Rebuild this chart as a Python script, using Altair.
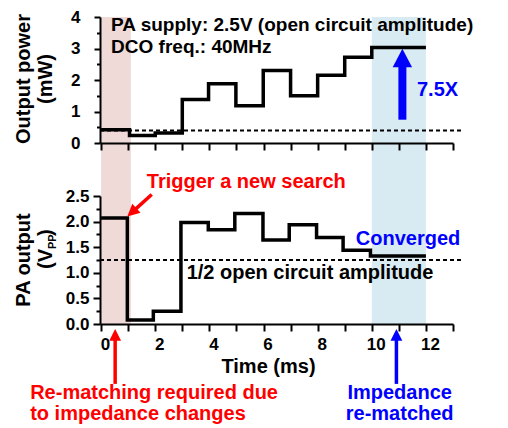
import altair as alt
import pandas as pd

# ---------------- data ----------------
power_edges = [0, 1.05, 2.0, 3.0, 3.97, 4.98, 5.99, 7.0, 8.0, 9.0, 10.0, 12.0]
power_levels = [0.42, 0.24, 0.32, 1.38, 1.88, 1.18, 2.30, 1.50, 2.15, 2.72, 3.03]
power_ref = 0.40

vpp_edges = [0, 0.97, 1.93, 2.95, 3.96, 4.94, 5.98, 6.95, 7.96, 8.94, 9.95, 12.0]
vpp_levels = [2.07, 0.08, 0.25, 1.98, 1.84, 2.16, 1.64, 1.94, 1.69, 1.44, 1.33]
vpp_half = 1.25

band_start = [0.0, 10.0]
band_end = [1.1, 12.0]
band_color = ["#f0dad8", "#d9ebf2"]

x_ticks = list(range(0, 14))
power_ticks = [i * 0.5 for i in range(9)]
vpp_ticks = [i * 0.25 for i in range(11)]

FONT = "Liberation Sans"
W = 353
H_TOP, H_BOT = 126, 128
XDOM = [-0.04, 13]

def step_df(edges, levels):
    return pd.DataFrame({"t": edges, "v": levels + [levels[-1]]})

power_df = step_df(power_edges, power_levels)
vpp_df = step_df(vpp_edges, vpp_levels)

common_axis = dict(domainColor="black", domainWidth=2, tickColor="black", tickWidth=2,
                   grid=False, zindex=1, labelFont=FONT, labelFontWeight="bold",
                   labelFontSize=17, labelColor="black")

def xenc(field, bottom=False):
    if bottom:
        ax = alt.Axis(values=x_ticks, tickSize=7, labelPadding=5, labelOffset=4,
                      labelFlush=False, labelOverlap=False,
                      labelExpr="datum.value % 2 == 0 && datum.value <= 12 ? datum.label : ''",
                      title="Time (ms)", titleFont=FONT, titleFontWeight="bold", titleFontSize=20,
                      titleColor="black", titleBaseline="alphabetic", titleX=168, titleY=48,
                      **common_axis)
    else:
        ax = alt.Axis(values=x_ticks, tickSize=7, labels=False, title=None, **common_axis)
    return alt.X(field, type="quantitative", scale=alt.Scale(domain=XDOM, nice=False, zero=False), axis=ax)

def yenc(field, bottom=False):
    if bottom:
        ax = alt.Axis(values=vpp_ticks,
                      tickSize={"condition": {"test": "datum.value % 0.5 == 0", "value": 7}, "value": 4},
                      labelPadding=4, labelFlush=False, labelOverlap=False,
                      labelExpr="datum.value % 0.5 == 0 ? format(datum.value, '.1f') : ''",
                      title=None, **common_axis)
        sc = alt.Scale(domain=[0, 2.5], nice=False, zero=False)
    else:
        ax = alt.Axis(values=power_ticks,
                      tickSize={"condition": {"test": "datum.value % 1 == 0", "value": 6}, "value": 3.5},
                      labelPadding=14, labelFlush=False, labelOverlap=False,
                      labelExpr="datum.value % 1 == 0 ? format(datum.value, 'd') : ''",
                      title=None, **common_axis)
        sc = alt.Scale(domain=[0, 4], nice=False, zero=False)
    return alt.Y(field, type="quantitative", scale=sc, axis=ax)

def txt(df_rows, bottom, color="black", align="left", size=20, **kw):
    df = pd.DataFrame(df_rows)
    return alt.Chart(df).mark_text(font=FONT, fontWeight="bold", fontSize=size, color=color,
                                   align=align, baseline="alphabetic", **kw).encode(
        x=xenc("t", bottom), y=yenc("v", bottom), text="s:N")

# ---------------- top panel ----------------
bands = alt.Chart(pd.DataFrame({"t0": band_start, "t1": band_end, "c": band_color,
                                "y0": [4, 4], "y1": [-5.746, -5.746]})).mark_rect().encode(
    x=xenc("t0"), x2="t1", y=yenc("y0"), y2="y1", color=alt.Color("c:N", scale=None))

top_ref = alt.Chart(pd.DataFrame({"t0": [-0.04], "t1": [13.36], "v": [power_ref]})).mark_rule(
    color="black", strokeWidth=2, strokeDash=[4, 3]).encode(x=xenc("t0"), x2="t1", y=yenc("v"))

top_line = alt.Chart(power_df).mark_line(interpolate="step-after", color="black",
                                         strokeWidth=3.5).encode(x=xenc("t"), y=yenc("v"))

top_text = txt({"t": [0.37, 0.37], "v": [3.556, 2.873],
                "s": ["PA supply: 2.5V (open circuit amplitude)", "DCO freq.: 40MHz"]}, False, size=19)
gain_text = txt({"t": [11.67], "v": [1.49], "s": ["7.5X"]}, False, color="#0000ff")

up_shaft = alt.Chart(pd.DataFrame({"t": [11.13], "v0": [0.74], "v1": [2.45]})).mark_rule(
    color="#0000ff", strokeWidth=8).encode(x=xenc("t"), y=yenc("v0"), y2="v1")
up_head = alt.Chart(pd.DataFrame({"t": [11.13], "v": [2.70]})).mark_point(
    shape="M-1,0.95L0,-0.95L1,0.95Z", filled=True, size=376, color="#0000ff", opacity=1).encode(
    x=xenc("t"), y=yenc("v"))

top_title = alt.Chart(pd.DataFrame({"s": ["Output power", "(mW)"], "px": [-70, -48]})).mark_text(
    font=FONT, fontWeight="bold", fontSize=20, color="black", angle=270, align="center",
    baseline="alphabetic").encode(x=alt.X("px:Q", scale=None), y=alt.value(62), text="s:N")

top = alt.layer(bands, top_ref, top_line, top_text, gain_text, up_shaft, up_head, top_title).properties(
    width=W, height=H_TOP)

# ---------------- bottom panel ----------------
bot_ref = alt.Chart(pd.DataFrame({"t0": [-0.04], "t1": [13.36], "v": [vpp_half]})).mark_rule(
    color="black", strokeWidth=2, strokeDash=[4, 3]).encode(x=xenc("t0", True), x2="t1", y=yenc("v", True))

bot_line = alt.Chart(vpp_df).mark_line(interpolate="step-after", color="black",
                                       strokeWidth=3.5).encode(x=xenc("t", True), y=yenc("v", True))

trig_text = txt({"t": [1.69], "v": [2.65], "s": ["Trigger a new search"]}, True, color="#ff0000")
conv_text = txt({"t": [9.41], "v": [1.545], "s": ["Converged"]}, True, color="#0000ff")
half_text = txt({"t": [3.16], "v": [0.877], "s": ["1/2 open circuit amplitude"]}, True)
red_note = txt({"t": [-2.62, -2.62], "v": [-1.46, -1.87],
                "s": ["Re-matching required due", "to impedance changes"]}, True, color="#ff0000")
blue_note = txt({"t": [11.03, 11.03], "v": [-1.46, -1.87], "s": ["Impedance", "re-matched"]}, True,
                color="#0000ff", align="center")

trig_shaft = alt.Chart(pd.DataFrame({"t0": [1.87], "t1": [1.14], "v0": [2.53], "v1": [2.18]})).mark_rule(
    color="#ff0000", strokeWidth=3.5).encode(x=xenc("t0", True), x2="t1", y=yenc("v0", True), y2="v1")
trig_head = alt.Chart(pd.DataFrame({"t": [1.137], "v": [2.18]})).mark_point(
    shape="M-1,1L0,-1L1,1Z", filled=True, size=150, color="#ff0000", opacity=1, angle=228).encode(
    x=xenc("t", True), y=yenc("v", True))

arr_df = pd.DataFrame({"t": [0.52, 10.91], "v0": [-1.17, -1.17], "v1": [-0.25, -0.25],
                       "vh": [-0.212, -0.212], "c": ["#ff0000", "#0000ff"]})
low_shafts = alt.Chart(arr_df).mark_rule(strokeWidth=3.5).encode(
    x=xenc("t", True), y=yenc("v0", True), y2="v1", color=alt.Color("c:N", scale=None))
low_heads = alt.Chart(arr_df).mark_point(shape="M-1,1L0,-1L1,1Z", filled=True, size=140,
                                         opacity=1).encode(
    x=xenc("t", True), y=yenc("vh", True), color=alt.Color("c:N", scale=None))

bot_title = alt.Chart(pd.DataFrame({"s": ["PA output"], "px": [-70]})).mark_text(
    font=FONT, fontWeight="bold", fontSize=20, color="black", angle=270, align="center",
    baseline="alphabetic").encode(x=alt.X("px:Q", scale=None), y=alt.value(64), text="s:N")
vpp_parts = pd.DataFrame({"s": ["(V", "PP", ")"], "px": [-48, -44, -48], "py": [73, 53, 40],
                          "fs": [20, 11, 20]})
bot_title2 = alt.Chart(vpp_parts).mark_text(
    font=FONT, fontWeight="bold", color="black", angle=270, align="left",
    baseline="alphabetic").encode(x=alt.X("px:Q", scale=None), y=alt.Y("py:Q", scale=None),
                                  text="s:N", size=alt.Size("fs:Q", scale=None))

bottom = alt.layer(bot_ref, bot_line, trig_text, conv_text, half_text, red_note, blue_note,
                   trig_shaft, trig_head, low_shafts, low_heads, bot_title, bot_title2).properties(
    width=W, height=H_BOT)

chart = alt.vconcat(top, bottom, spacing=53, bounds="flush").resolve_scale(
    x="independent", y="independent", color="independent").properties(
    padding={"left": 6, "top": 0, "right": 0, "bottom": 0}).configure_view(stroke=None)

chart.save("out.html", embed_options={"renderer": "svg", "actions": False})
